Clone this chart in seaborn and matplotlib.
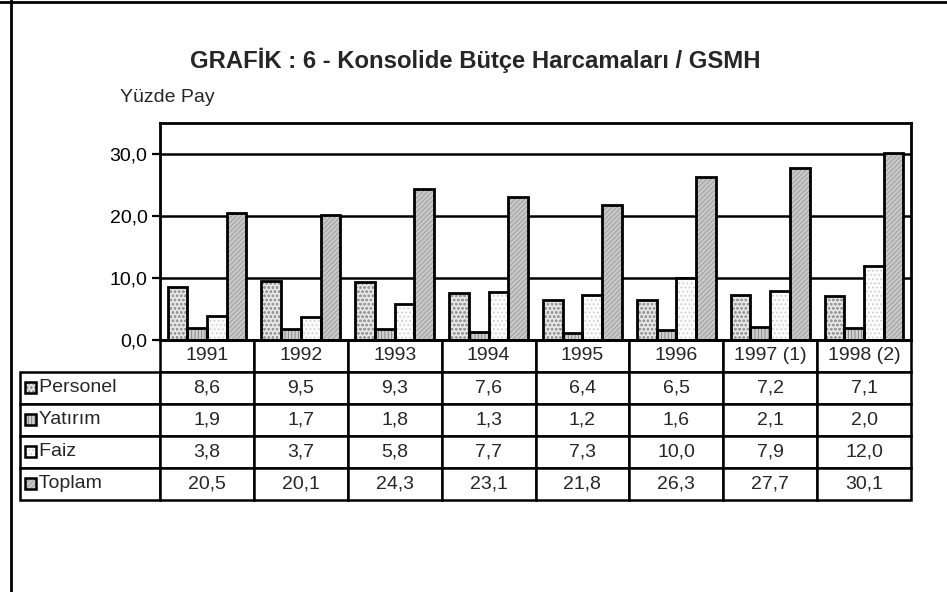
import matplotlib

matplotlib.use("Agg")

import matplotlib.pyplot as plt
import pandas as pd
import seaborn as sns
from matplotlib.lines import Line2D
from matplotlib.patches import Rectangle
from matplotlib.ticker import FuncFormatter

sns.set_theme(style="white")
plt.rcParams["font.family"] = ["Liberation Sans", "DejaVu Sans"]
plt.rcParams["hatch.linewidth"] = 0.6

years = ["1991", "1992", "1993", "1994", "1995", "1996", "1997 (1)", "1998 (2)"]
series = ["Personel", "Yatırım", "Faiz", "Toplam"]
personel = [8.6, 9.5, 9.3, 7.6, 6.4, 6.5, 7.2, 7.1]
yatirim = [1.9, 1.7, 1.8, 1.3, 1.2, 1.6, 2.1, 2.0]
faiz = [3.8, 3.7, 5.8, 7.7, 7.3, 10.0, 7.9, 12.0]
toplam = [20.5, 20.1, 24.3, 23.1, 21.8, 26.3, 27.7, 30.1]

# fill colour, hatch pattern and hatch colour per series
fills = {"Personel": "#e6e6e6", "Yatırım": "#d0d0d0", "Faiz": "#fbfbfb", "Toplam": "#c8c8c8"}
hatches = {"Personel": "oooo", "Yatırım": "|||||", "Faiz": "....", "Toplam": "///////"}
hatch_cols = {"Personel": "#9a9a9a", "Yatırım": "#7a7a7a", "Faiz": "#c8c8c8", "Toplam": "#9a9a9a"}

values = {"Personel": personel, "Yatırım": yatirim, "Faiz": faiz, "Toplam": toplam}
df = pd.DataFrame(
    [(y, s, values[s][i]) for s in series for i, y in enumerate(years)],
    columns=["year", "series", "value"],
)

W, H = 947, 592
fig = plt.figure(figsize=(W / 100, H / 100), dpi=100)
ax_l, ax_r, ax_t, ax_b = 160, 911, 123, 340
ax = fig.add_axes([ax_l / W, 1 - ax_b / H, (ax_r - ax_l) / W, (ax_b - ax_t) / H])

sns.barplot(
    data=df, x="year", y="value", hue="series", order=years, hue_order=series,
    palette=fills, width=0.84, gap=0, edgecolor="black", linewidth=2,
    legend=False, ax=ax, saturation=1,
)
for cont, s in zip(ax.containers, series):
    for p in cont.patches:
        # hatch takes the edge colour, so draw the black outline separately
        p.set_hatch(hatches[s])
        p.set_edgecolor(hatch_cols[s])
        p.set_linewidth(0)
        ax.add_patch(Rectangle(p.get_xy(), p.get_width(), p.get_height(),
                               fill=False, edgecolor="black", linewidth=2, zorder=p.get_zorder()))

ax.set_ylim(0, 35)
ax.set_yticks([0, 10, 20, 30])
ax.yaxis.set_major_formatter(FuncFormatter(lambda v, _: f"{v:.1f}".replace(".", ",")))
ax.tick_params(axis="y", direction="out", length=6, width=1.6, labelsize=14, left=True, pad=3, colors="black")
ax.tick_params(axis="x", bottom=False, labelbottom=False)
ax.set_xlabel("")
ax.set_ylabel("")
for v in [10, 20, 30]:
    ax.axhline(v, color="black", linewidth=1.8, zorder=0)
for sp in ax.spines.values():
    sp.set_visible(True)
    sp.set_color("black")
    sp.set_linewidth(2)

# data table under the chart
cell_text = [[""] + years]
for s in series:
    cell_text.append(["   " + s] + [f"{v:.1f}".replace(".", ",") for v in values[s]])
tab_l, tab_b = 20, 500
ax_w, ax_h = ax_r - ax_l, ax_b - ax_t
lab_w = ax_l - tab_l
col_w = ax_w / len(years)
tbl = ax.table(
    cellText=cell_text,
    colWidths=[lab_w] + [col_w] * len(years),
    cellLoc="center",
    bbox=[(tab_l - ax_l) / ax_w, -(tab_b - ax_b) / ax_h, (ax_r - tab_l) / ax_w, (tab_b - ax_b) / ax_h],
)
tbl.auto_set_font_size(False)
for (r, c), cell in tbl.get_celld().items():
    cell.set_linewidth(1.8)
    cell.set_edgecolor("black")
    cell.get_text().set_fontsize(14)
    if c == 0:
        cell.get_text().set_horizontalalignment("left")
        cell.PAD = 0.02
    if r == 0 and c == 0:
        cell.visible_edges = ""

# legend keys inside the label column
row_h = (tab_b - ax_b) / 5
for i, s in enumerate(series):
    cy = ax_b + row_h * (i + 1.5) - 1
    fig.add_artist(Rectangle(
        ((tab_l + 5) / W, 1 - (cy + 5.5) / H), 11 / W, 11 / H,
        facecolor=fills[s], hatch=hatches[s], edgecolor=hatch_cols[s], linewidth=0,
        transform=fig.transFigure,
    ))
    fig.add_artist(Rectangle(
        ((tab_l + 5) / W, 1 - (cy + 5.5) / H), 11 / W, 11 / H,
        fill=False, edgecolor="black", linewidth=1.8, transform=fig.transFigure,
    ))

fig.text(475 / W, 1 - 60 / H, "GRAFİK : 6 - Konsolide Bütçe Harcamaları / GSMH",
         ha="center", va="center", fontsize=17.2, fontweight="bold")
fig.text(120 / W, 1 - 97 / H, "Yüzde Pay", ha="left", va="center", fontsize=14)

fig.add_artist(Line2D([10.5 / W, 10.5 / W], [0, 1], color="black", linewidth=2, transform=fig.transFigure))
fig.add_artist(Line2D([0, 1], [1 - 1.5 / H, 1 - 1.5 / H], color="black", linewidth=2, transform=fig.transFigure))

fig.savefig("out.png", dpi=100)
